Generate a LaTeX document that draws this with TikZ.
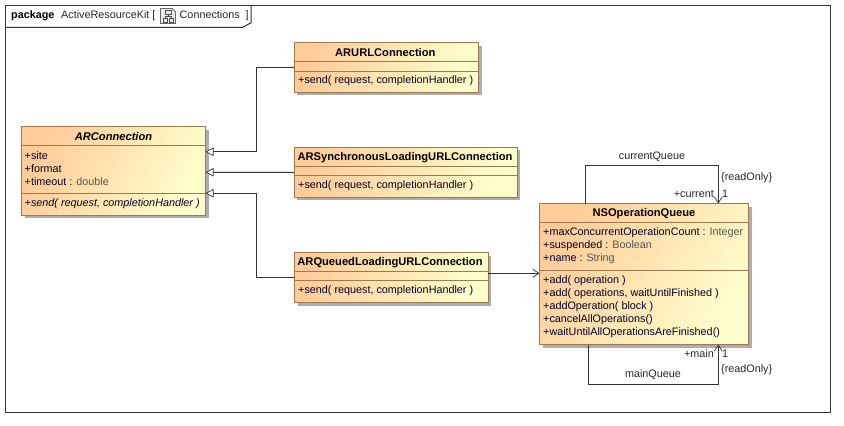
\documentclass[tikz,border=0pt]{standalone}
\usepackage{fontspec}
\setmainfont{Liberation Sans}
\usetikzlibrary{shadows,arrows.meta,calc}
\definecolor{umlborder}{HTML}{A07850}
\definecolor{umlleft}{HTML}{FFCC99}
\definecolor{umlright}{HTML}{FFFFCC}
\definecolor{typegray}{HTML}{555555}
\definecolor{linecol}{HTML}{333333}
\tikzset{
  umlclass/.style={draw=umlborder,line width=1pt,top color=umlleft,bottom color=umlright,shading angle=#1,rectangle,inner sep=0pt,outer sep=0pt,
    copy shadow={shadow xshift=3pt,shadow yshift=-3pt,fill=black!32,draw=none,opacity=1}},
  divider/.style={draw=umlborder,line width=1pt},
  cname/.style={font=\fontsize{11.15}{13}\selectfont\bfseries,inner sep=0pt,anchor=center,text=black,yshift=-1pt},
  member/.style={font=\fontsize{10.8}{13}\selectfont,inner sep=0pt,anchor=west,text=black!85!blue,yshift=-1pt},
  lab/.style={font=\fontsize{10.8}{13}\selectfont,inner sep=0pt,text=black!85,yshift=-1pt},
  conn/.style={draw=linecol,line width=1pt},
  gen/.style={conn,{Triangle[open,length=8pt,width=8.5pt,fill=white,line width=0.7pt]}-},
  assoc/.style={conn,-{Straight Barb[length=6pt,width=8pt,line width=0.7pt]}},
}
\newcommand{\ty}[1]{\textcolor{typegray}{#1}}
\begin{document}
\begin{tikzpicture}[x=1pt,y=-1pt]
\useasboundingbox (0,0) rectangle (844,426);
% frame
\node[draw=black!80,line width=1pt,minimum width=825pt,minimum height=407pt,inner sep=0pt,anchor=north west] (frame) at (5,5) {};
\draw[draw=black!80,line width=1pt] (5,27.3) -- (242.7,27.3) -- (251,22.7) -- (251,5);
\node[lab,anchor=west,font=\fontsize{10.8}{13}\selectfont\bfseries,text=black] (pkg) at (11,14.5) {package};
\node[lab,anchor=west] (pname) at (61,14.5) {ActiveResourceKit [};
\node[lab,anchor=west] (dname) at (179.5,14.5) {Connections \ ]};
% diagram icon
\draw[black!60,line width=0.8pt,fill=black!8] (160.5,8.5) -- (172,8.5) -- (175.5,12) -- (175.5,23.5) -- (160.5,23.5) -- cycle;
\draw[black!70,line width=0.7pt] (165,10.5) rectangle (171,14.5) (163,18) rectangle (167,22) (169,18) rectangle (173,22) (168,14.5) -- (168,16.2) (165,18) -- (165,16.2) -- (171,16.2) -- (171,18);
% classes
\node[umlclass=64,anchor=north west,minimum width=184pt,minimum height=88.5pt] (arc) at (21.5,126.5) {};
\draw[divider] (21.5,145.5) -- (205.5,145.5) (21.5,193) -- (205.5,193);
\node[cname,font=\fontsize{11.15}{13}\selectfont\bfseries\itshape] (arcn) at (113.5,135.3) {ARConnection};
\node[member] (a1) at (24.5,154.3) {+site};
\node[member] (a2) at (24.5,167.3) {+format};
\node[member] (a3) at (24.5,180.3) {+timeout : \ty{double}};
\node[member,font=\fontsize{10.8}{13}\selectfont\itshape] (a4) at (24.5,202.3) {+send( request, completionHandler )};

\node[umlclass=75,anchor=north west,minimum width=184.5pt,minimum height=49.5pt] (url) at (294,42.5) {};
\draw[divider] (294,61.5) -- (478.5,61.5) (294,71) -- (478.5,71);
\node[cname] (urln) at (385.3,51.3) {ARURLConnection};
\node[member] (u1) at (298,79.8) {+send( request, completionHandler )};

\node[umlclass=77,anchor=north west,minimum width=223pt,minimum height=50pt] (syn) at (294,147) {};
\draw[divider] (294,166) -- (517,166) (294,175.7) -- (517,175.7);
\node[cname] (synn) at (405,156.3) {ARSynchronousLoadingURLConnection};
\node[member] (s1) at (298,184.5) {+send( request, completionHandler )};

\node[umlclass=75,anchor=north west,minimum width=193.5pt,minimum height=50pt] (que) at (294.5,252.7) {};
\draw[divider] (294.5,271) -- (488,271) (294.5,280.7) -- (488,280.7);
\node[cname] (quen) at (390,261.3) {ARQueuedLoadingURLConnection};
\node[member] (q1) at (298,289.5) {+send( request, completionHandler )};

\node[umlclass=56,anchor=north west,minimum width=209pt,minimum height=141pt] (nsq) at (539.5,203.5) {};
\draw[divider] (539.5,222.5) -- (748.5,222.5) (539.5,270) -- (748.5,270);
\node[cname] (nsqn) at (644,212.5) {NSOperationQueue};
\node[member] (n1) at (543,231.5) {+maxConcurrentOperationCount : \ty{Integer}};
\node[member] (n2) at (543,244.5) {+suspended : \ty{Boolean}};
\node[member] (n3) at (543,257.5) {+name : \ty{String}};
\node[member] (n4) at (543,279.5) {+add( operation )};
\node[member] (n5) at (543,292.5) {+add( operations, waitUntilFinished )};
\node[member] (n6) at (543,305.5) {+addOperation( block )};
\node[member] (n7) at (543,318.5) {+cancelAllOperations()};
\node[member] (n8) at (543,331.5) {+waitUntilAllOperationsAreFinished()};
% connectors
\draw[gen] ([yshift=19pt]arc.east) -| (256.7,67.5) -- (url.west |- 0,67.5);
\draw[gen] ([yshift=-1.5pt]arc.east) -- (syn.west |- 0,172.3);
\draw[gen] ([yshift=-22.5pt]arc.east) -| (256.7,277.3) -- (que.west |- 0,277.3);
\draw[assoc] (que.east |- 0,273.3) -- (nsq.west |- 0,273.3);
\draw[assoc] (nsq.north -| 585.3,0) -- (585.3,165.3) -- (718.3,165.3) -- (nsq.north -| 718.3,0);
\draw[assoc] (nsq.south -| 588.7,0) -- (588.7,384.3) -- (718.3,384.3) -- (nsq.south -| 718.3,0);
% labels
\node[lab] (cq) at (652,155.5) {currentQueue};
\node[lab,anchor=west] (ro1) at (721,177) {\{readOnly\}};
\node[lab,anchor=east] (cur) at (714,192.7) {+current};
\node[lab,anchor=west] (one1) at (722,192.7) {1};
\node[lab,anchor=east] (mn) at (714,352.5) {+main};
\node[lab,anchor=west] (one2) at (722,352.5) {1};
\node[lab,anchor=west] (ro2) at (721,368.5) {\{readOnly\}};
\node[lab] (mq) at (653,373.5) {mainQueue};
\end{tikzpicture}
\end{document}
